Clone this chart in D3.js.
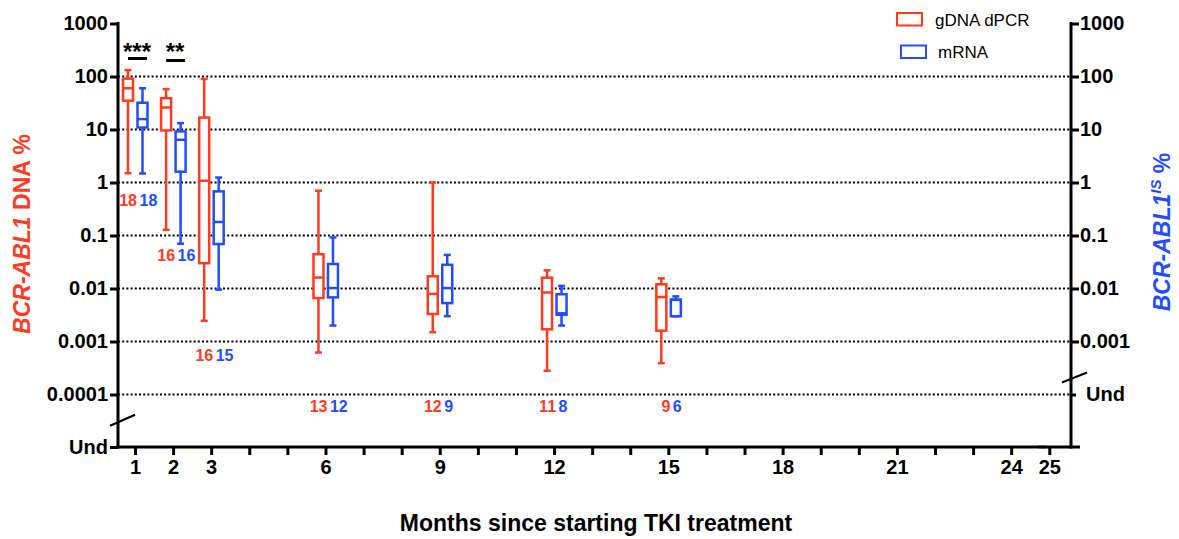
<!DOCTYPE html>
<html>
<head>
<meta charset="utf-8">
<script src="https://cdn.jsdelivr.net/npm/d3@7"></script>
<style>
body { margin: 0; background: #fff; }
svg { display: block; font-family: "Liberation Sans", Arial, sans-serif; }
</style>
</head>
<body>
<div class="graph"></div>
<script>
// gDNA dPCR (red), value 0 = undetectable
var dnaMonths = [1, 2, 3, 6, 9, 12, 15, 25];
var dnaMin = [1.5, 0.128, 0.00246, 0.00062, 0.0015, 0.00028, 0.00039, 0];
var dnaQ1  = [35, 9.6, 0.030, 0.0066, 0.0033, 0.0017, 0.0016, 0];
var dnaMed = [60, 26, 1.08, 0.0161, 0.0079, 0.0084, 0.0069, 0];
var dnaQ3  = [91, 39, 16.8, 0.0444, 0.017, 0.016, 0.012, 0];
var dnaMax = [132, 58, 90, 0.70, 1.0, 0.022, 0.0155, 0];
var dnaN   = [18, 16, 16, 13, 12, 11, 9, null];

// mRNA (blue)
var rnaMonths = [1, 2, 3, 6, 9, 12, 15];
var rnaMin = [1.48, 0.07, 0.0095, 0.002, 0.003, 0.002, 0.003];
var rnaQ1  = [10.9, 1.6, 0.069, 0.0068, 0.0053, 0.0032, 0.0030];
var rnaMed = [15.7, 6.4, 0.18, 0.0102, 0.0102, 0.0034, 0.0061];
var rnaQ3  = [32, 9.2, 0.68, 0.029, 0.028, 0.0078, 0.0062];
var rnaMax = [60, 13.2, 1.24, 0.092, 0.043, 0.0112, 0.0071];
var rnaN   = [18, 16, 15, 12, 9, 8, 6];

// level (in %) where the n labels sit
var countLevel = [0.47, 0.042, 0.00056, 0.00006, 0.00006, 0.00006, 0.00006];

var sigMonths = [1, 2];
var sigLabels = ['***', '**'];

var leftTicks = [1000, 100, 10, 1, 0.1, 0.01, 0.001, 0.0001];
var rightTicks = [1000, 100, 10, 1, 0.1, 0.01, 0.001];
var gridTicks = [100, 10, 1, 0.1, 0.01, 0.001, 0.0001];
var xTickLabels = [1, 2, 3, 6, 9, 12, 15, 18, 21, 24, 25];

var red = '#ff3b1f', blue = '#1f4dff';

var W = 1179, H = 539;
var left = 118, right = 1071, bottom = 447;

var svg = d3.select('div.graph')
    .append('svg')
        .attr('width', W)
        .attr('height', H);

var x = d3.scaleLinear()
    .domain([0.554, 25.57])
    .range([left, right]);

var y = d3.scaleLog()
    .domain([0.0001, 1000])
    .range([394.5, 23.5]);

// left axis puts "Und" on the baseline
var yL = (v) => v > 0 ? y(v) : bottom;

// dotted gridlines
svg.append('g')
    .selectAll('line')
    .data(gridTicks)
    .enter()
    .append('line')
        .attr('x1', left)
        .attr('x2', right)
        .attr('y1', (d) => y(d))
        .attr('y2', (d) => y(d))
        .style('stroke', '#000')
        .style('stroke-width', 2)
        .style('stroke-dasharray', '2,2.2');

function drawBoxes(months, mn, q1, md, q3, mx, color, dx) {
    var rows = months.map((m, i) => ({m: m, mn: mn[i], q1: q1[i], md: md[i], q3: q3[i], mx: mx[i]}));
    var g = svg.append('g')
        .style('stroke', color)
        .style('stroke-width', 2.5)
        .style('fill', 'none');
    var bw = 10, cw = 7;
    var b = g.selectAll('g.box')
        .data(rows)
        .enter()
        .append('g')
            .attr('class', 'box')
            .attr('transform', (d) => 'translate(' + (x(d.m) + dx) + ',0)');
    b.append('line')
        .attr('y1', (d) => yL(d.mx)).attr('y2', (d) => yL(d.q3));
    b.append('line')
        .attr('y1', (d) => yL(d.q1)).attr('y2', (d) => yL(d.mn));
    b.append('line')
        .attr('x1', -cw / 2).attr('x2', cw / 2)
        .attr('y1', (d) => yL(d.mx)).attr('y2', (d) => yL(d.mx));
    b.append('line')
        .attr('x1', -cw / 2).attr('x2', cw / 2)
        .attr('y1', (d) => yL(d.mn)).attr('y2', (d) => yL(d.mn));
    b.append('rect')
        .attr('x', -bw / 2)
        .attr('width', bw)
        .attr('y', (d) => yL(d.q3))
        .attr('height', (d) => yL(d.q1) - yL(d.q3))
        .style('fill', '#fff');
    b.append('line')
        .attr('x1', -bw / 2).attr('x2', bw / 2)
        .attr('y1', (d) => yL(d.md)).attr('y2', (d) => yL(d.md));
}

drawBoxes(dnaMonths, dnaMin, dnaQ1, dnaMed, dnaQ3, dnaMax, red, -7);
drawBoxes(rnaMonths, rnaMin, rnaQ1, rnaMed, rnaQ3, rnaMax, blue, 7.5);

// n labels
svg.append('g')
    .selectAll('text')
    .data(rnaMonths)
    .enter()
    .append('text')
        .attr('x', (d) => x(d) + 2)
        .attr('y', (d, i) => y(countLevel[i]))
        .attr('dy', '0.36em')
        .attr('text-anchor', 'end')
        .style('font-size', '16px')
        .style('font-weight', 'bold')
        .style('fill', red)
        .text((d, i) => dnaN[i]);
svg.append('g')
    .selectAll('text')
    .data(rnaMonths)
    .enter()
    .append('text')
        .attr('x', (d) => x(d) + 4.5)
        .attr('y', (d, i) => y(countLevel[i]))
        .attr('dy', '0.36em')
        .attr('text-anchor', 'start')
        .style('font-size', '16px')
        .style('font-weight', 'bold')
        .style('fill', blue)
        .text((d, i) => rnaN[i]);

// significance
var sig = svg.append('g').selectAll('g').data(sigMonths).enter().append('g');
sig.append('text')
    .attr('x', (d) => x(d) + 2)
    .attr('y', 60)
    .attr('text-anchor', 'middle')
    .style('font-size', '24px')
    .style('font-weight', 'bold')
    .text((d, i) => sigLabels[i]);
sig.append('line')
    .attr('x1', (d) => x(d) - 7)
    .attr('x2', (d) => x(d) + 12)
    .attr('y1', (d, i) => 58.5 + i * 2)
    .attr('y2', (d, i) => 58.5 + i * 2)
    .style('stroke', '#000')
    .style('stroke-width', 3);

// axes
function styleAxis(g, size) {
    g.select('.domain').remove();
    g.selectAll('line').style('stroke', '#000').style('stroke-width', 3);
    g.selectAll('text')
        .style('font-size', size + 'px')
        .style('font-weight', 'bold')
        .style('fill', '#000')
        .style('font-family', '"Liberation Sans", Arial, sans-serif');
}

svg.append('g')
    .attr('transform', 'translate(' + left + ',0)')
    .call(d3.axisLeft(y).tickValues(leftTicks).tickFormat((d) => String(d)).tickSize(8).tickPadding(2))
    .call(styleAxis, 20);
svg.append('g')
    .attr('transform', 'translate(' + left + ',0)')
    .call(d3.axisLeft(d3.scaleOrdinal().domain(['Und']).range([bottom])).tickSize(8).tickPadding(2))
    .call(styleAxis, 20);

svg.append('g')
    .attr('transform', 'translate(' + right + ',0)')
    .call(d3.axisRight(y).tickValues(rightTicks).tickFormat((d) => String(d)).tickSize(8).tickPadding(1))
    .call(styleAxis, 20);
svg.append('g')
    .attr('transform', 'translate(' + right + ',0)')
    .call(d3.axisRight(d3.scaleOrdinal().domain(['Und']).range([y(0.0001)])).tickSize(5).tickPadding(10))
    .call(styleAxis, 20);

svg.append('g')
    .attr('transform', 'translate(0,' + bottom + ')')
    .call(d3.axisBottom(x).tickValues(d3.range(1, 26)).tickFormat((d) => xTickLabels.includes(d) ? d : '').tickSize(8).tickPadding(5))
    .call(styleAxis, 20);

var axisLines = svg.append('g').style('stroke', '#000').style('stroke-width', 3).style('fill', 'none');
axisLines.append('line').attr('x1', left).attr('x2', left).attr('y1', y(1000) - 1.5).attr('y2', bottom + 1.5);
axisLines.append('line').attr('x1', right).attr('x2', right).attr('y1', y(1000) - 1.5).attr('y2', bottom + 1.5);
axisLines.append('line').attr('x1', left - 1.5).attr('x2', right + 9).attr('y1', bottom).attr('y2', bottom);

// axis break marks
var lb = (y(0.0001) + bottom) / 2;
axisLines.append('line').style('stroke-width', 2)
    .attr('x1', left - 8).attr('x2', left + 17).attr('y1', lb + 5).attr('y2', lb - 6);
var rb = y(0.0001) - 17;
axisLines.append('line').style('stroke-width', 2)
    .attr('x1', right - 9).attr('x2', right + 16).attr('y1', rb + 5).attr('y2', rb - 5);

// axis titles
var lt = svg.append('text')
    .attr('transform', 'translate(22,234) rotate(-90)')
    .attr('text-anchor', 'middle')
    .attr('dy', '0.36em')
    .style('font-size', '23px')
    .style('font-weight', 'bold')
    .style('fill', red);
lt.append('tspan').style('font-style', 'italic').text('BCR-ABL1');
lt.append('tspan').text(' DNA %');

var rt = svg.append('text')
    .attr('transform', 'translate(1162,232) rotate(-90)')
    .attr('text-anchor', 'middle')
    .attr('dy', '0.36em')
    .style('font-size', '23px')
    .style('font-weight', 'bold')
    .style('fill', blue);
rt.append('tspan').style('font-style', 'italic').text('BCR-ABL1');
rt.append('tspan').style('font-style', 'italic').style('font-size', '15px').attr('dy', '-0.6em').text('IS');
rt.append('tspan').attr('dy', '0.4em').text(' %');

svg.append('text')
    .attr('x', 596)
    .attr('y', 531)
    .attr('text-anchor', 'middle')
    .style('font-size', '23px')
    .style('font-weight', 'bold')
    .text('Months since starting TKI treatment');

// legend
var legend = svg.append('g')
    .selectAll('g')
    .data([['gDNA dPCR', red], ['mRNA', blue]])
    .enter()
    .append('g')
        .attr('transform', (d, i) => 'translate(' + (897 + i * 4) + ',' + (13 + i * 32.5) + ')');
legend.append('rect')
    .attr('width', 25)
    .attr('height', 12.5)
    .style('fill', 'none')
    .style('stroke', (d) => d[1])
    .style('stroke-width', 2);
legend.append('text')
    .attr('x', (d, i) => 38 - i)
    .attr('y', 6.5)
    .attr('dy', '0.36em')
    .style('font-size', '17px')
    .text((d) => d[0]);
</script>
</body>
</html>
